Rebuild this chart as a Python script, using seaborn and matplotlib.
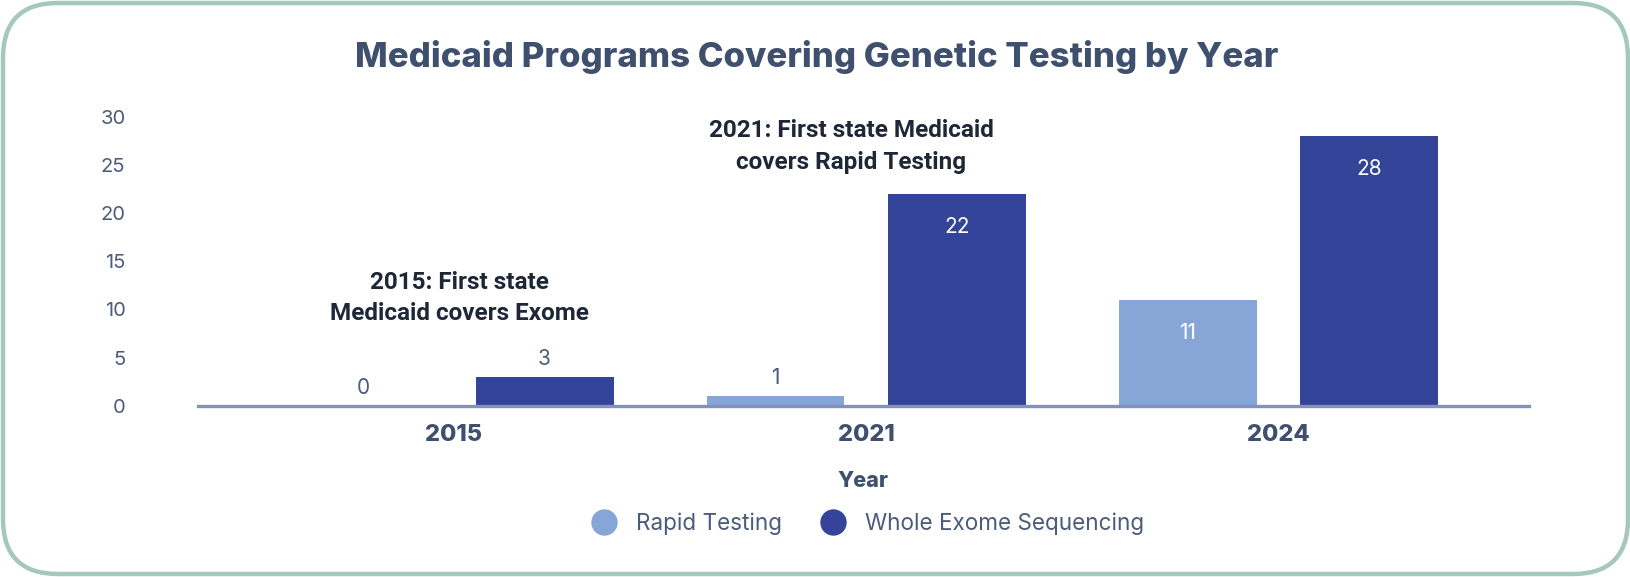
import pandas as pd
import matplotlib
matplotlib.use("Agg")
import matplotlib.pyplot as plt
import seaborn as sns
from matplotlib.patches import FancyBboxPatch
from matplotlib.lines import Line2D

years = ["2015", "2021", "2024"]
rapid_testing = [0, 1, 11]
whole_exome = [3, 22, 28]
series_names = ["Rapid Testing", "Whole Exome Sequencing"]
yticks = [0, 5, 10, 15, 20, 25, 30]

df = pd.DataFrame({
    "Year": years * 2,
    "Programs": rapid_testing + whole_exome,
    "Series": [series_names[0]] * 3 + [series_names[1]] * 3,
})

c_light = "#85a6d7"
c_dark = "#334499"
c_text = "#3f4f6e"
c_tick = "#4b5b7b"

sns.set_theme(style="white")
plt.rcParams["font.family"] = ["Inter", "DejaVu Sans"]

fig = plt.figure(figsize=(16.31, 5.77), dpi=100)
ax = fig.add_axes([0.1212, 0.2969, 0.8163, 0.501])

sns.barplot(data=df, x="Year", y="Programs", hue="Series",
            palette=[c_light, c_dark], width=0.88, gap=0.24,
            ax=ax, legend=False, saturation=1, edgecolor="none")

ax.set_ylim(0, 30)
ax.set_xlim(-0.621, 2.607)
ax.set_yticks(yticks)
ax.tick_params(axis="y", length=0, pad=52, labelsize=14.5, labelcolor=c_tick)
ax.tick_params(axis="x", length=0, pad=13, labelsize=17, labelcolor=c_text)
for lab in ax.get_xticklabels():
    lab.set_fontweight("heavy")
for s in ["top", "right", "left"]:
    ax.spines[s].set_visible(False)
ax.spines["bottom"].set_color("#8193b8")
ax.spines["bottom"].set_linewidth(2.4)
ax.set_ylabel("")
ax.set_xlabel("Year", fontsize=15.5, fontweight="heavy", color=c_text, labelpad=18)

# value labels
for cont in ax.containers:
    for bar in cont:
        h = bar.get_height()
        xc = bar.get_x() + bar.get_width() / 2
        if h < 5:
            ax.annotate(f"{h:g}", (xc, h), xytext=(0, 13), textcoords="offset points",
                        ha="center", va="center", fontsize=15, color=c_tick)
        else:
            ax.annotate(f"{h:g}", (xc, h), xytext=(0, -24), textcoords="offset points",
                        ha="center", va="center", fontsize=15, color="white")

ann_font = ["Roboto", "DejaVu Sans"]
ax.text(0.964, 26.9, "2021: First state Medicaid\ncovers Rapid Testing", ha="center",
        va="center", fontsize=17.5, fontweight="bold", color="#1e2738",
        family=ann_font, linespacing=1.45)
ax.text(0.013, 11.2, "2015: First state\nMedicaid covers Exome", ha="center",
        va="center", fontsize=17.5, fontweight="bold", color="#1e2738",
        family=ann_font, linespacing=1.45)

fig.text(0.501, 0.901, "Medicaid Programs Covering Genetic Testing by Year",
         ha="center", va="center", fontsize=25, fontweight="heavy", color=c_text)

handles = [Line2D([0], [0], marker="o", linestyle="none", markersize=18,
                  markerfacecolor=c, markeredgecolor=c) for c in [c_light, c_dark]]
leg = fig.legend(handles, series_names, loc="center", bbox_to_anchor=(0.529, 0.092),
                 ncol=2, frameon=False, fontsize=16.2, handletextpad=0.4,
                 columnspacing=1.3)
for t in leg.get_texts():
    t.set_color(c_tick)

frame = FancyBboxPatch((0.03, 0.03), 16.31 - 0.06, 5.77 - 0.06,
                       boxstyle="round,pad=0,rounding_size=0.55",
                       transform=fig.dpi_scale_trans, facecolor="none",
                       edgecolor="#a4c8bd", linewidth=3.2)
fig.patches.append(frame)

fig.savefig("out.png", dpi=100)
